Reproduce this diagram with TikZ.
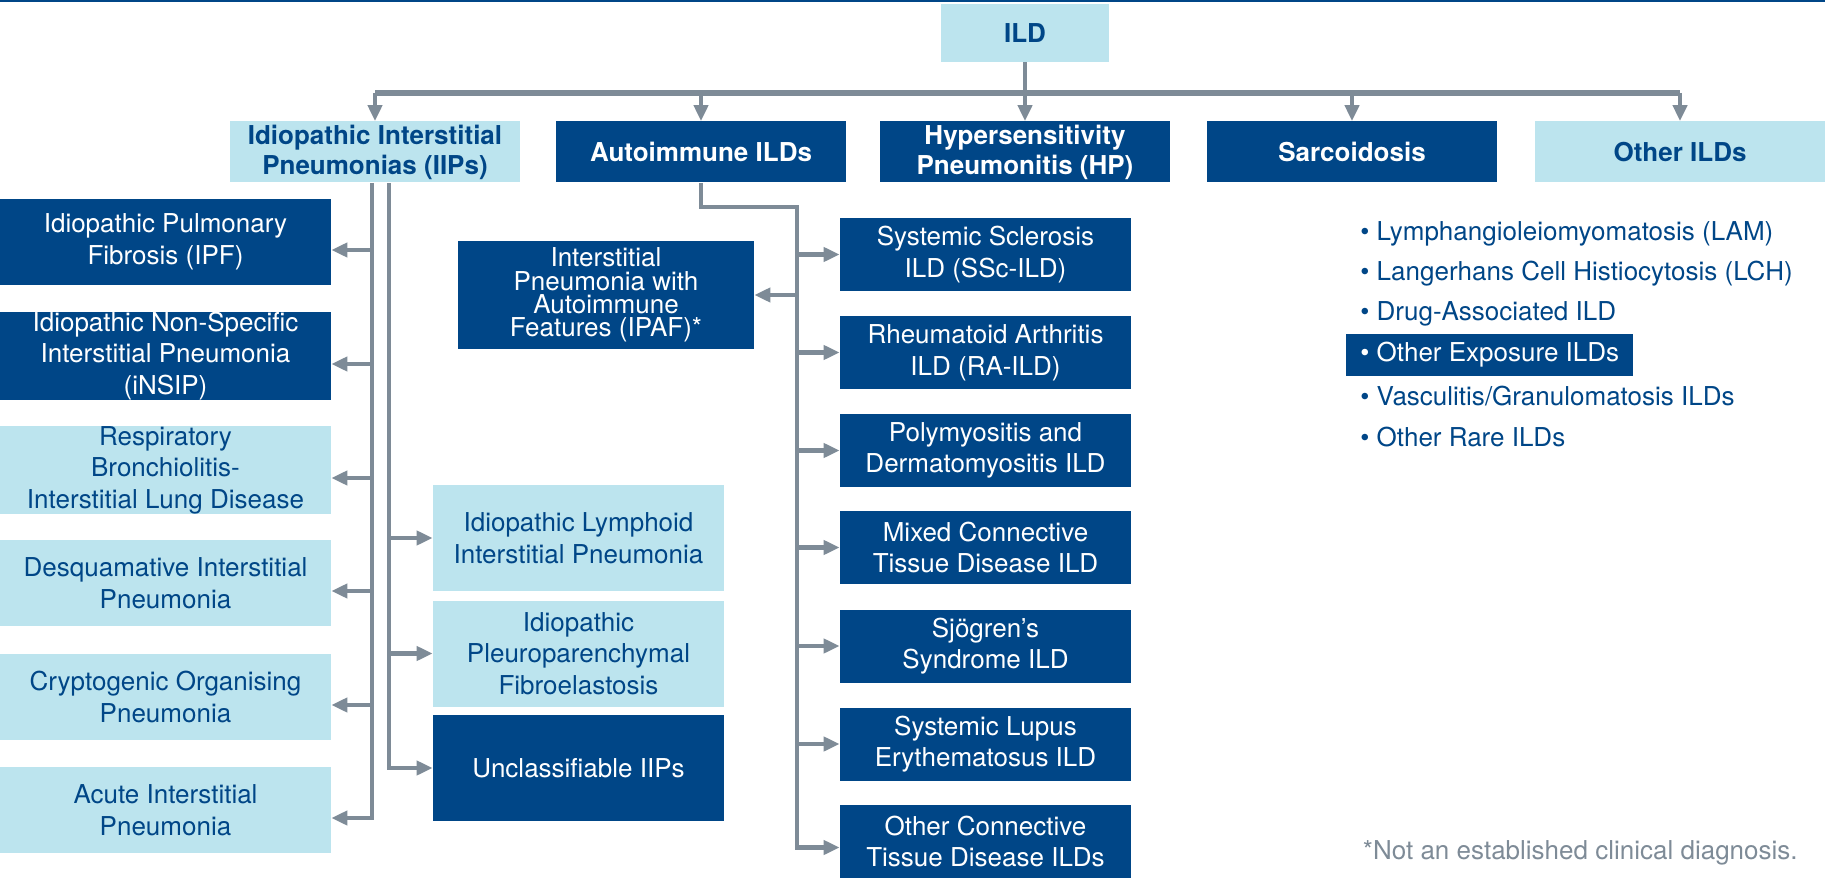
\documentclass[tikz,border=0pt]{standalone}
\usepackage{fontspec}
\setmainfont{TeX Gyre Heros}
\usetikzlibrary{arrows.meta}
\definecolor{ildnavy}{HTML}{004687}
\definecolor{ildlight}{HTML}{BCE4EE}
\definecolor{ildgrey}{HTML}{7E8B97}

\begin{document}
\begin{tikzpicture}[x=0.2mm, y=-0.2mm,
    box/.style = {align=center, inner sep=0pt, font=\fontsize{14.8}{18}\selectfont},
    dark/.style = {box, fill=ildnavy, text=white},
    light/.style = {box, fill=ildlight, text=ildnavy},
    head/.style = {minimum width=58mm, minimum height=12.2mm, font=\fontsize{14.8}{17}\selectfont\bfseries},
    leftbox/.style = {minimum width=66.2mm, minimum height=17.2mm},
    midbox/.style = {minimum width=58.2mm, minimum height=21.2mm},
    autobox/.style = {minimum width=58.2mm, minimum height=14.6mm},
    conn/.style = {draw=ildgrey, line width=0.9mm},
    arr/.style = {conn, -{Triangle[length=3.2mm, width=2.8mm]}},
    item/.style = {anchor=west, inner xsep=2.8mm, inner ysep=0pt, minimum height=8.4mm, text=ildnavy, font=\fontsize{14.8}{18}\selectfont}]
  \useasboundingbox (0,0) rectangle (1825,879);
  \fill[ildnavy] (0,0) rectangle (1825,2.5);

  % top level
  \node[light, head, minimum width=33.6mm, minimum height=11.6mm] (ild) at (1025,33) {ILD};
  \node[light, head] (iips) at (375,152) {Idiopathic Interstitial\\Pneumonias (IIPs)};
  \node[dark, head] (auto) at (701,152) {Autoimmune ILDs};
  \node[dark, head] (hp) at (1025,152) {Hypersensitivity\\Pneumonitis (HP)};
  \node[dark, head] (sarc) at (1352,152) {Sarcoidosis};
  \node[light, head] (other) at (1680,152) {Other ILDs};

  % IIPs
  \node[dark, leftbox] (ipf) at (165.5,242) {Idiopathic Pulmonary\\Fibrosis (IPF)};
  \node[dark, leftbox] (insip) at (165.5,356) {Idiopathic Non-Specific\\Interstitial Pneumonia\\(iNSIP)};
  \node[light, leftbox] (rbild) at (165.5,470) {Respiratory\\Bronchiolitis-\\Interstitial Lung Disease};
  \node[light, leftbox] (dip) at (165.5,583) {Desquamative Interstitial\\Pneumonia};
  \node[light, leftbox] (cop) at (165.5,697) {Cryptogenic Organising\\Pneumonia};
  \node[light, leftbox] (aip) at (165.5,810) {Acute Interstitial\\Pneumonia};
  \node[light, midbox] (ilip) at (578.5,538) {Idiopathic Lymphoid\\Interstitial Pneumonia};
  \node[light, midbox] (ippfe) at (578.5,653.5) {Idiopathic\\Pleuroparenchymal\\Fibroelastosis};
  \node[dark, midbox] (uiip) at (578.5,768) {Unclassifiable IIPs};

  % autoimmune
  \node[dark, minimum width=59.2mm, minimum height=21.6mm, font=\fontsize{14.8}{13.2}\selectfont] (ipaf) at (606,295) {Interstitial\\Pneumonia with\\Autoimmune\\Features (IPAF)*};
  \node[dark, autobox] (ssc) at (985.5,254.5) {Systemic Sclerosis\\ILD (SSc-ILD)};
  \node[dark, autobox] (ra) at (985.5,352.5) {Rheumatoid Arthritis\\ILD (RA-ILD)};
  \node[dark, autobox] (pmdm) at (985.5,450.5) {Polymyositis and\\Dermatomyositis ILD};
  \node[dark, autobox] (mctd) at (985.5,547.5) {Mixed Connective\\Tissue Disease ILD};
  \node[dark, autobox] (sjo) at (985.5,646) {Sjögren’s\\Syndrome ILD};
  \node[dark, autobox] (sle) at (985.5,744) {Systemic Lupus\\Erythematosus ILD};
  \node[dark, autobox] (octd) at (985.5,841.5) {Other Connective\\Tissue Disease ILDs};

  % other ILDs list
  \node[item] (lam) at (1346,234) {\textbullet\ Lymphangioleiomyomatosis (LAM)};
  \node[item] (lch) at (1346,274) {\textbullet\ Langerhans Cell Histiocytosis (LCH)};
  \node[item] (drug) at (1346,314) {\textbullet\ Drug-Associated ILD};
  \node[item, fill=ildnavy, text=white] (oexp) at (1346,355) {\textbullet\ Other Exposure ILDs};
  \node[item] (vasc) at (1346,396) {\textbullet\ Vasculitis/Granulomatosis ILDs};
  \node[item] (rare) at (1346,437) {\textbullet\ Other Rare ILDs};

  \node[anchor=east, inner sep=0pt, text=ildgrey, font=\fontsize{14.8}{18}\selectfont] (note) at (1798,853) {*Not an established clinical diagnosis.};

  \coordinate (bus) at (0,93);
  \coordinate (ltrunk) at (372,0);
  \coordinate (rtrunk) at (389,0);
  \coordinate (elbow) at (797,207);

  \draw[arr] (ild.south) -- (hp.north);
  \draw[conn, line width=1.2mm] (bus -| iips) -- (bus -| other); % bus bar
  \foreach \n in {iips, auto, sarc, other}
    \draw[arr] (bus -| \n) -- (\n.north);

  \draw[arr] (iips.south -| ltrunk) -- ([yshift=-1.6mm]aip.east -| ltrunk) -- ([yshift=-1.6mm]aip.east);
  \foreach \n in {ipf, insip, rbild, dip, cop}
    \draw[arr] ([yshift=-1.6mm]\n.east -| ltrunk) -- ([yshift=-1.6mm]\n.east);
  \draw[arr] (iips.south -| rtrunk) -- (uiip.west -| rtrunk) -- (uiip.west);
  \foreach \n in {ilip, ippfe}
    \draw[arr] (\n.west -| rtrunk) -- (\n.west);

  \draw[arr] (auto.south) |- (elbow) -- ([yshift=-1.2mm]octd.west -| elbow) -- ([yshift=-1.2mm]octd.west);
  \foreach \n in {ssc, ra, pmdm, mctd, sjo, sle}
    \draw[arr] (\n.west -| elbow) -- (\n.west);
  \draw[arr] (ipaf.east -| elbow) -- (ipaf.east);
\end{tikzpicture}
\end{document}
